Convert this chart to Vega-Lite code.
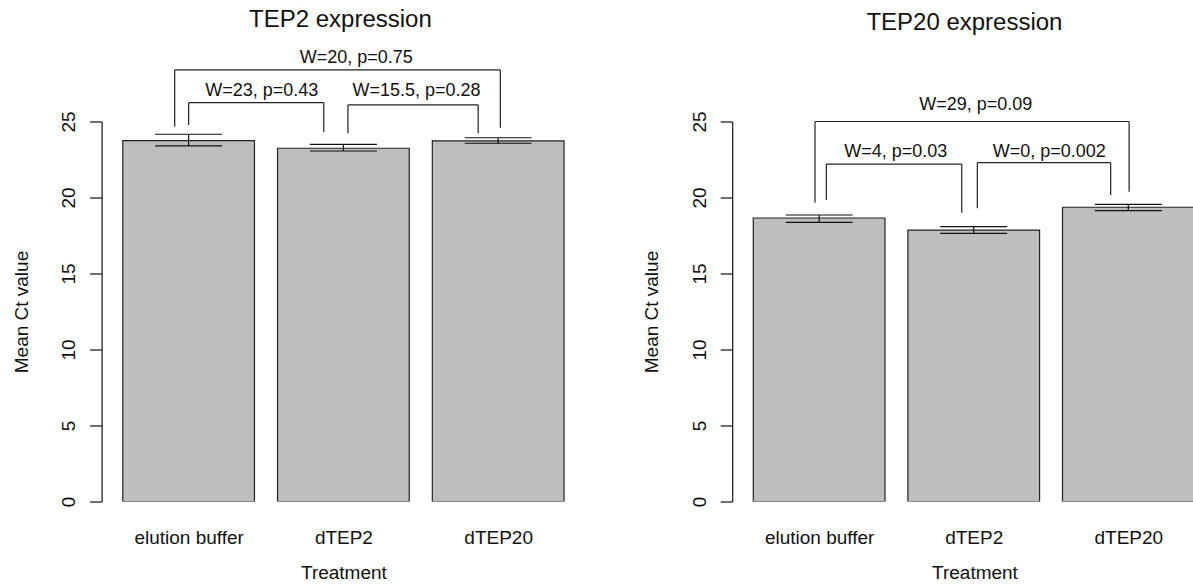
{
  "$schema": "https://vega.github.io/schema/vega-lite/v6.json",
  "autosize": {"type": "pad"},
  "padding": {"left": 12.6, "top": 7.5, "right": 0, "bottom": 0},
  "background": "white",
  "bounds": "flush",
  "spacing": 146.6,
  "config": {"view": {"stroke": null}, "font": "Liberation Sans"},
  "datasets": {
    "bars": [
      {"panel": "TEP2", "treatment": "elution buffer", "mid": 0.7, "mean": 23.74, "lower": 23.39, "upper": 24.16},
      {"panel": "TEP2", "treatment": "dTEP2", "mid": 1.9, "mean": 23.24, "lower": 23.06, "upper": 23.5},
      {"panel": "TEP2", "treatment": "dTEP20", "mid": 3.1, "mean": 23.72, "lower": 23.57, "upper": 23.93},
      {"panel": "TEP20", "treatment": "elution buffer", "mid": 0.7, "mean": 18.65, "lower": 18.36, "upper": 18.85},
      {"panel": "TEP20", "treatment": "dTEP2", "mid": 1.9, "mean": 17.86, "lower": 17.64, "upper": 18.08},
      {"panel": "TEP20", "treatment": "dTEP20", "mid": 3.1, "mean": 19.36, "lower": 19.13, "upper": 19.55}
    ],
    "brackets": [
      {"panel": "TEP2", "label": "W=20, p=0.75", "xl": 0.592, "xr": 3.117, "top": 28.39, "lend": 24.66, "rend": 24.59, "lx": 2.0, "ly": 28.88},
      {"panel": "TEP2", "label": "W=23, p=0.43", "xl": 0.70, "xr": 1.748, "top": 26.24, "lend": 24.77, "rend": 24.29, "lx": 1.267, "ly": 26.7},
      {"panel": "TEP2", "label": "W=15.5, p=0.28", "xl": 1.935, "xr": 2.945, "top": 26.09, "lend": 24.22, "rend": 24.22, "lx": 2.467, "ly": 26.7},
      {"panel": "TEP20", "label": "W=29, p=0.09", "xl": 0.668, "xr": 3.106, "top": 25.0, "lend": 19.66, "rend": 20.38, "lx": 1.916, "ly": 25.76},
      {"panel": "TEP20", "label": "W=4, p=0.03", "xl": 0.756, "xr": 1.807, "top": 22.2, "lend": 19.84, "rend": 19.0, "lx": 1.295, "ly": 22.68},
      {"panel": "TEP20", "label": "W=0, p=0.002", "xl": 1.928, "xr": 2.963, "top": 22.29, "lend": 19.29, "rend": 20.16, "lx": 2.487, "ly": 22.68}
    ]
  },
  "hconcat": [
    {
      "width": 483.6,
      "height": 380,
      "title": {"text": "TEP2 expression", "frame": "group", "anchor": "middle", "baseline": "alphabetic", "offset": -2.4, "dx": -3, "fontSize": 24, "fontWeight": "normal", "font": "Liberation Sans", "color": "#111"},
      "layer": [
        {
          "data": {"name": "bars"},
          "transform": [{"filter": "datum.panel === 'TEP2'"}],
          "mark": {"type": "bar", "width": 131.7, "fill": "#bebebe", "stroke": "#222", "strokeWidth": 1.2, "clip": true},
          "encoding": {
            "x": {"field": "mid", "type": "quantitative", "scale": {"domain": [0.064, 3.736], "nice": false, "zero": false},
              "axis": {"title": "Treatment", "values": [0.7, 1.9, 3.1], "labelExpr": "datum.value < 1 ? 'elution buffer' : datum.value < 2.5 ? 'dTEP2' : 'dTEP20'", "domain": false, "ticks": false, "tickSize": 0, "grid": false, "labelPadding": 42.5, "labelBaseline": "alphabetic", "labelAlign": "center", "labelAngle": 0, "labelFontSize": 19, "labelFont": "Liberation Sans", "labelColor": "#111", "labelFlush": false, "labelOverlap": false, "titleY": 77.5, "titleBaseline": "alphabetic", "titleFontSize": 19, "titleFont": "Liberation Sans", "titleFontWeight": "normal", "titleColor": "#111"}},
            "y": {"field": "mean", "type": "quantitative", "scale": {"domain": [0, 25], "nice": false, "zero": true},
              "axis": {"title": "Mean Ct value", "values": [0, 5, 10, 15, 20, 25], "grid": false, "domainColor": "#111", "domainWidth": 1.2, "tickColor": "#111", "tickWidth": 1.2, "tickSize": 12, "labelAngle": -90, "labelAlign": "center", "labelBaseline": "alphabetic", "labelPadding": 15, "labelFontSize": 19, "labelFont": "Liberation Sans", "labelColor": "#111", "labelFlush": false, "labelOverlap": false, "titleAngle": -90, "titleAlign": "center", "titleBaseline": "alphabetic", "titleX": -73.7, "titleY": 190, "titleFontSize": 19, "titleFont": "Liberation Sans", "titleFontWeight": "normal", "titleColor": "#111"}}
          }
        },
        {
          "data": {"name": "bars"},
          "transform": [{"filter": "datum.panel === 'TEP2'"}],
          "mark": {"type": "rule", "color": "#111", "strokeWidth": 1.2},
          "encoding": {
            "x": {"field": "mid", "type": "quantitative", "scale": {"domain": [0.064, 3.736], "nice": false, "zero": false}},
            "y": {"field": "lower", "type": "quantitative"},
            "y2": {"field": "upper"}
          }
        },
        {
          "data": {"name": "bars"},
          "transform": [{"filter": "datum.panel === 'TEP2'"}],
          "mark": {"type": "tick", "orient": "horizontal", "color": "#111", "size": 67, "thickness": 1.2, "opacity": 1},
          "encoding": {
            "x": {"field": "mid", "type": "quantitative", "scale": {"domain": [0.064, 3.736], "nice": false, "zero": false}},
            "y": {"field": "lower", "type": "quantitative"}
          }
        },
        {
          "data": {"name": "bars"},
          "transform": [{"filter": "datum.panel === 'TEP2'"}],
          "mark": {"type": "tick", "orient": "horizontal", "color": "#111", "size": 67, "thickness": 1.2, "opacity": 1},
          "encoding": {
            "x": {"field": "mid", "type": "quantitative", "scale": {"domain": [0.064, 3.736], "nice": false, "zero": false}},
            "y": {"field": "upper", "type": "quantitative"}
          }
        },
        {
          "data": {"name": "brackets"},
          "transform": [{"filter": "datum.panel === 'TEP2'"}],
          "mark": {"type": "rule", "color": "#222", "strokeWidth": 1.2},
          "encoding": {
            "x": {"field": "xl", "type": "quantitative", "scale": {"domain": [0.064, 3.736], "nice": false, "zero": false}},
            "y": {"field": "lend", "type": "quantitative"},
            "y2": {"field": "top"}
          }
        },
        {
          "data": {"name": "brackets"},
          "transform": [{"filter": "datum.panel === 'TEP2'"}],
          "mark": {"type": "rule", "color": "#222", "strokeWidth": 1.2},
          "encoding": {
            "x": {"field": "xr", "type": "quantitative", "scale": {"domain": [0.064, 3.736], "nice": false, "zero": false}},
            "y": {"field": "rend", "type": "quantitative"},
            "y2": {"field": "top"}
          }
        },
        {
          "data": {"name": "brackets"},
          "transform": [{"filter": "datum.panel === 'TEP2'"}],
          "mark": {"type": "rule", "color": "#222", "strokeWidth": 1.2},
          "encoding": {
            "x": {"field": "xl", "type": "quantitative", "scale": {"domain": [0.064, 3.736], "nice": false, "zero": false}},
            "x2": {"field": "xr"},
            "y": {"field": "top", "type": "quantitative"}
          }
        },
        {
          "data": {"name": "brackets"},
          "transform": [{"filter": "datum.panel === 'TEP2'"}],
          "mark": {"type": "text", "align": "center", "baseline": "alphabetic", "fontSize": 18, "font": "Liberation Sans", "color": "#111"},
          "encoding": {
            "x": {"field": "lx", "type": "quantitative", "scale": {"domain": [0.064, 3.736], "nice": false, "zero": false}},
            "y": {"field": "ly", "type": "quantitative"},
            "text": {"field": "label"}
          }
        }
      ]
    },
    {
      "width": 461.3,
      "height": 380,
      "title": {"text": "TEP20 expression", "frame": "group", "anchor": "middle", "baseline": "alphabetic", "offset": 41.5, "dx": 1.6, "fontSize": 24, "fontWeight": "normal", "font": "Liberation Sans", "color": "#111"},
      "layer": [
        {
          "data": {"name": "bars"},
          "transform": [{"filter": "datum.panel === 'TEP20'"}],
          "mark": {"type": "bar", "width": 131.7, "fill": "#bebebe", "stroke": "#222", "strokeWidth": 1.2, "clip": true},
          "encoding": {
            "x": {"field": "mid", "type": "quantitative", "scale": {"domain": [0.064, 3.567], "nice": false, "zero": false},
              "axis": {"title": "Treatment", "values": [0.7, 1.9, 3.1], "labelExpr": "datum.value < 1 ? 'elution buffer' : datum.value < 2.5 ? 'dTEP2' : 'dTEP20'", "domain": false, "ticks": false, "tickSize": 0, "grid": false, "labelPadding": 42.5, "labelBaseline": "alphabetic", "labelAlign": "center", "labelAngle": 0, "labelFontSize": 19, "labelFont": "Liberation Sans", "labelColor": "#111", "labelFlush": false, "labelOverlap": false, "titleX": 242.3, "titleY": 77.5, "titleBaseline": "alphabetic", "titleFontSize": 19, "titleFont": "Liberation Sans", "titleFontWeight": "normal", "titleColor": "#111"}},
            "y": {"field": "mean", "type": "quantitative", "scale": {"domain": [0, 25], "nice": false, "zero": true},
              "axis": {"title": "Mean Ct value", "values": [0, 5, 10, 15, 20, 25], "grid": false, "domainColor": "#111", "domainWidth": 1.2, "tickColor": "#111", "tickWidth": 1.2, "tickSize": 12, "labelAngle": -90, "labelAlign": "center", "labelBaseline": "alphabetic", "labelPadding": 15, "labelFontSize": 19, "labelFont": "Liberation Sans", "labelColor": "#111", "labelFlush": false, "labelOverlap": false, "titleAngle": -90, "titleAlign": "center", "titleBaseline": "alphabetic", "titleX": -74.7, "titleY": 190, "titleFontSize": 19, "titleFont": "Liberation Sans", "titleFontWeight": "normal", "titleColor": "#111"}}
          }
        },
        {
          "data": {"name": "bars"},
          "transform": [{"filter": "datum.panel === 'TEP20'"}],
          "mark": {"type": "rule", "color": "#111", "strokeWidth": 1.2},
          "encoding": {
            "x": {"field": "mid", "type": "quantitative", "scale": {"domain": [0.064, 3.567], "nice": false, "zero": false}},
            "y": {"field": "lower", "type": "quantitative"},
            "y2": {"field": "upper"}
          }
        },
        {
          "data": {"name": "bars"},
          "transform": [{"filter": "datum.panel === 'TEP20'"}],
          "mark": {"type": "tick", "orient": "horizontal", "color": "#111", "size": 67, "thickness": 1.2, "opacity": 1},
          "encoding": {
            "x": {"field": "mid", "type": "quantitative", "scale": {"domain": [0.064, 3.567], "nice": false, "zero": false}},
            "y": {"field": "lower", "type": "quantitative"}
          }
        },
        {
          "data": {"name": "bars"},
          "transform": [{"filter": "datum.panel === 'TEP20'"}],
          "mark": {"type": "tick", "orient": "horizontal", "color": "#111", "size": 67, "thickness": 1.2, "opacity": 1},
          "encoding": {
            "x": {"field": "mid", "type": "quantitative", "scale": {"domain": [0.064, 3.567], "nice": false, "zero": false}},
            "y": {"field": "upper", "type": "quantitative"}
          }
        },
        {
          "data": {"name": "brackets"},
          "transform": [{"filter": "datum.panel === 'TEP20'"}],
          "mark": {"type": "rule", "color": "#222", "strokeWidth": 1.2},
          "encoding": {
            "x": {"field": "xl", "type": "quantitative", "scale": {"domain": [0.064, 3.567], "nice": false, "zero": false}},
            "y": {"field": "lend", "type": "quantitative"},
            "y2": {"field": "top"}
          }
        },
        {
          "data": {"name": "brackets"},
          "transform": [{"filter": "datum.panel === 'TEP20'"}],
          "mark": {"type": "rule", "color": "#222", "strokeWidth": 1.2},
          "encoding": {
            "x": {"field": "xr", "type": "quantitative", "scale": {"domain": [0.064, 3.567], "nice": false, "zero": false}},
            "y": {"field": "rend", "type": "quantitative"},
            "y2": {"field": "top"}
          }
        },
        {
          "data": {"name": "brackets"},
          "transform": [{"filter": "datum.panel === 'TEP20'"}],
          "mark": {"type": "rule", "color": "#222", "strokeWidth": 1.2},
          "encoding": {
            "x": {"field": "xl", "type": "quantitative", "scale": {"domain": [0.064, 3.567], "nice": false, "zero": false}},
            "x2": {"field": "xr"},
            "y": {"field": "top", "type": "quantitative"}
          }
        },
        {
          "data": {"name": "brackets"},
          "transform": [{"filter": "datum.panel === 'TEP20'"}],
          "mark": {"type": "text", "align": "center", "baseline": "alphabetic", "fontSize": 18, "font": "Liberation Sans", "color": "#111"},
          "encoding": {
            "x": {"field": "lx", "type": "quantitative", "scale": {"domain": [0.064, 3.567], "nice": false, "zero": false}},
            "y": {"field": "ly", "type": "quantitative"},
            "text": {"field": "label"}
          }
        }
      ]
    }
  ]
}
